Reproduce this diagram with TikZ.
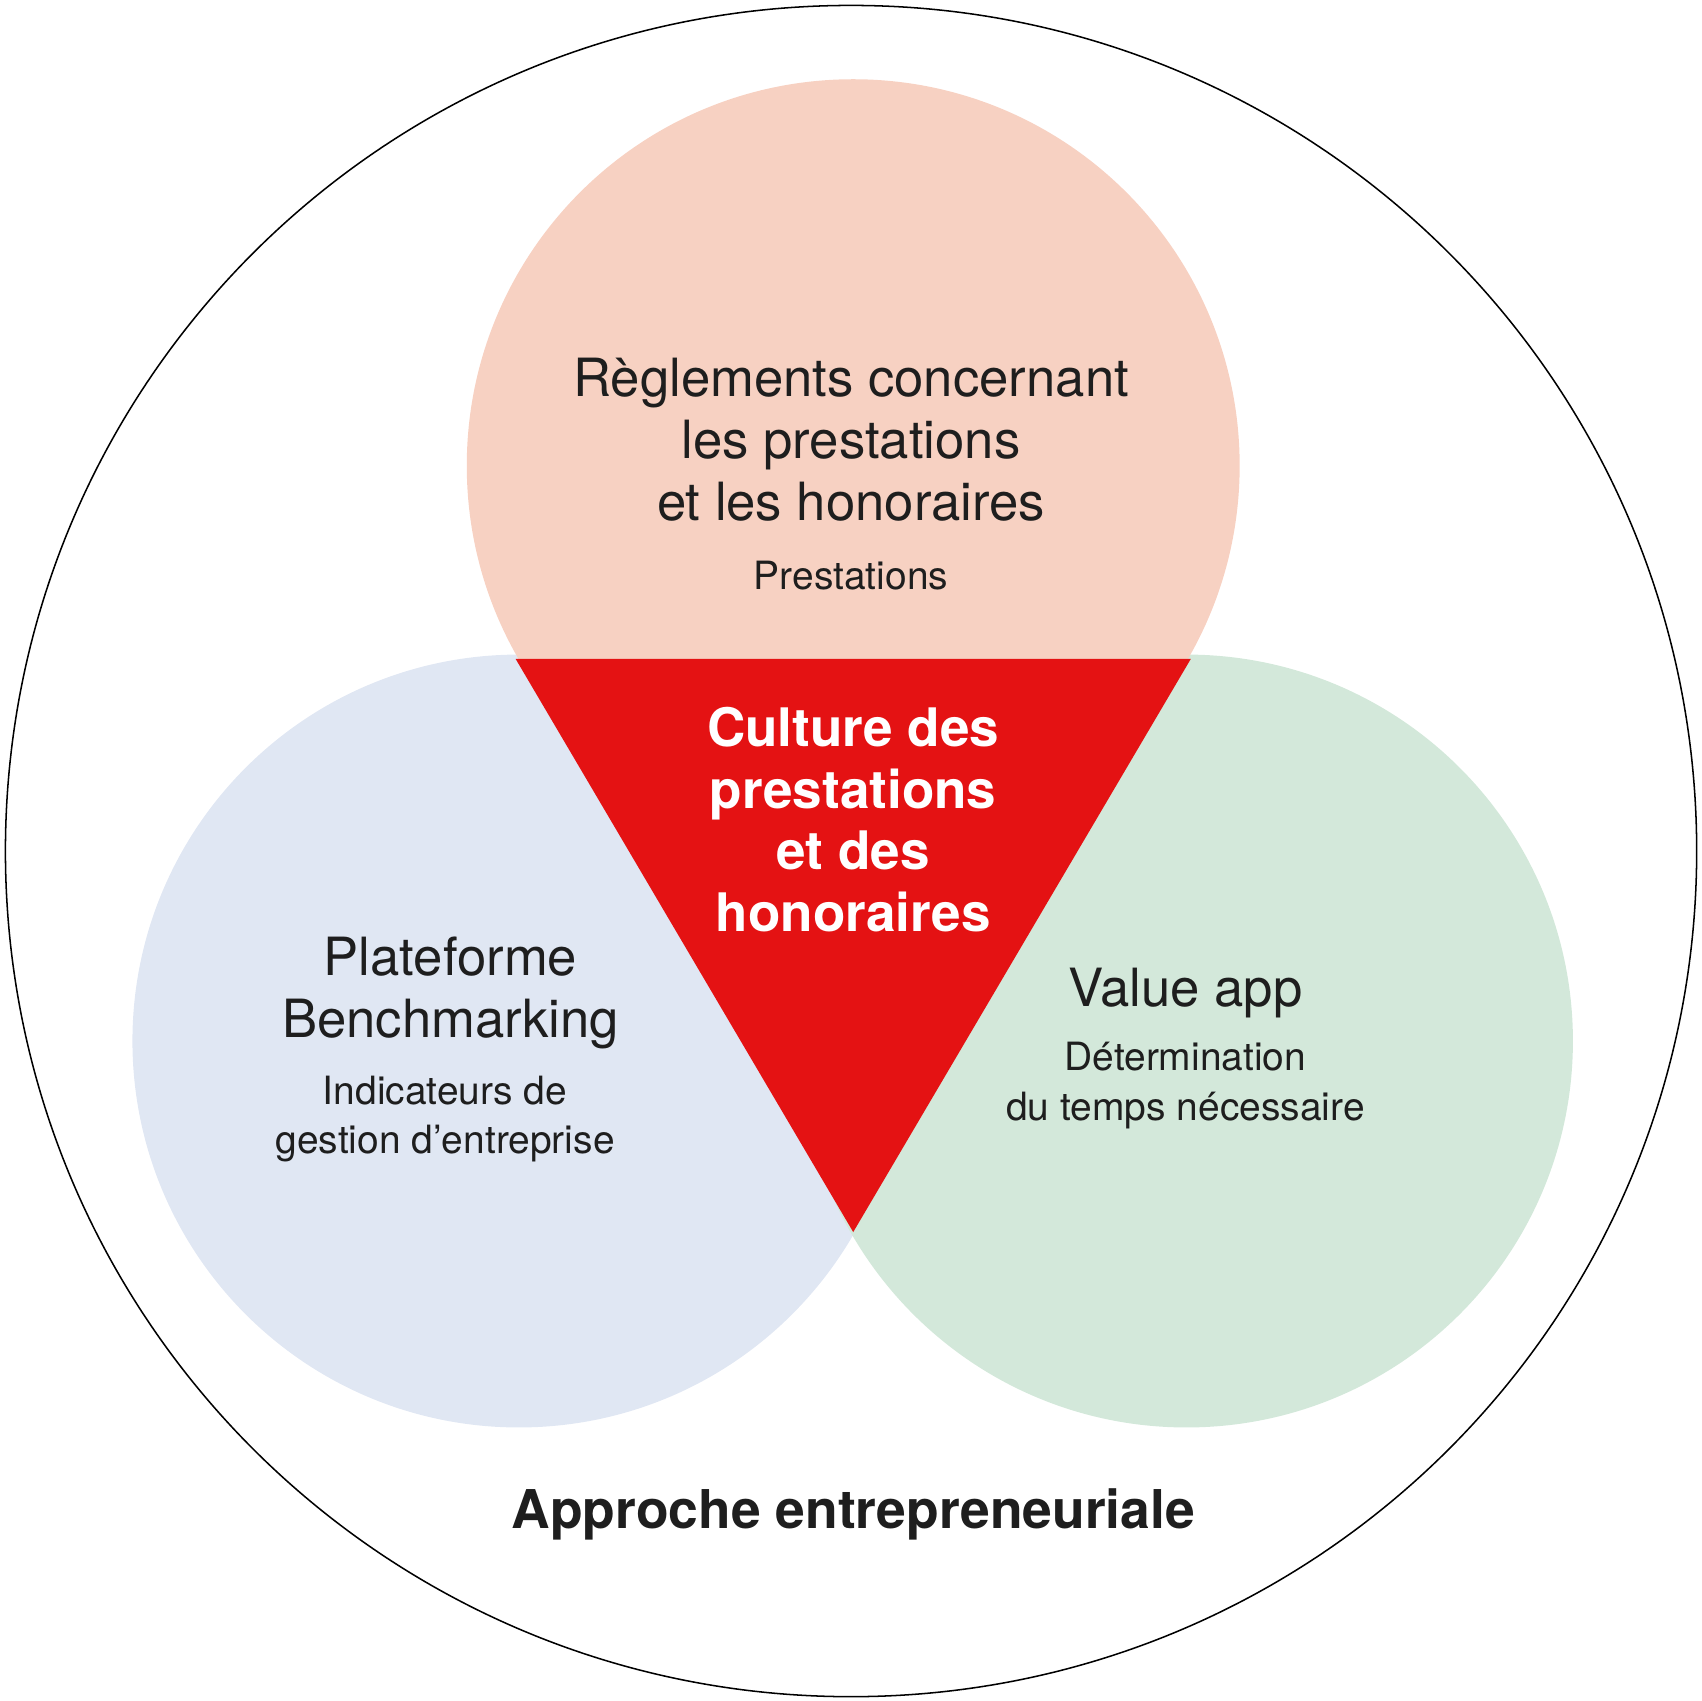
\documentclass[tikz,border=0pt]{standalone}
\usepackage{fontspec}
\setmainfont{TeX Gyre Heros}
\usepackage{xcolor}
\definecolor{topfill}{HTML}{F7D1C2}
\definecolor{leftfill}{HTML}{E0E7F3}
\definecolor{rightfill}{HTML}{D3E8DA}
\definecolor{redfill}{HTML}{E41213}
\definecolor{textgray}{HTML}{1E1E1E}

\begin{document}
\begin{tikzpicture}[x=0.01cm, y=-0.01cm,
    title/.style={align=center, text=textgray, font=\fontsize{13.8}{16.2}\selectfont},
    sub/.style={align=center, text=textgray, font=\fontsize{10.2}{13}\selectfont}]
    \useasboundingbox (0,0) rectangle (1567,1567);
    
    \fill[leftfill] (478,959) circle (356);
    \fill[rightfill] (1093,959) circle (356);
    \fill[topfill] (786,429) circle (356);
    \fill[redfill] (475,607) -- (1097,607) -- (786,1135) -- cycle;
    \draw[line width=0.4pt] (784,784) circle (779);
    
    \node[title] (top) at (784,405) {Règlements concernant\\les prestations\\et les honoraires};
    \node[sub] (topsub) at (784,530) {Prestations};
    \node[title] (left) at (415,915) {Plateforme\\Benchmarking};
    \node[sub] (leftsub) at (410,1031) {Indicateurs de\\gestion d’entreprise};
    \node[title] (right) at (1092,915) {Value app};
    \node[sub] (rightsub) at (1092,1000) {Détermination\\du temps nécessaire};
    \node[align=center, text=white, font=\bfseries\fontsize{13.9}{16.2}\selectfont] (mid) at (786,755) {Culture des\\prestations\\et des\\honoraires};
    \node[text=textgray, font=\bfseries\fontsize{14}{17}\selectfont] (base) at (786,1395) {Approche entrepreneuriale};
\end{tikzpicture}
\end{document}
